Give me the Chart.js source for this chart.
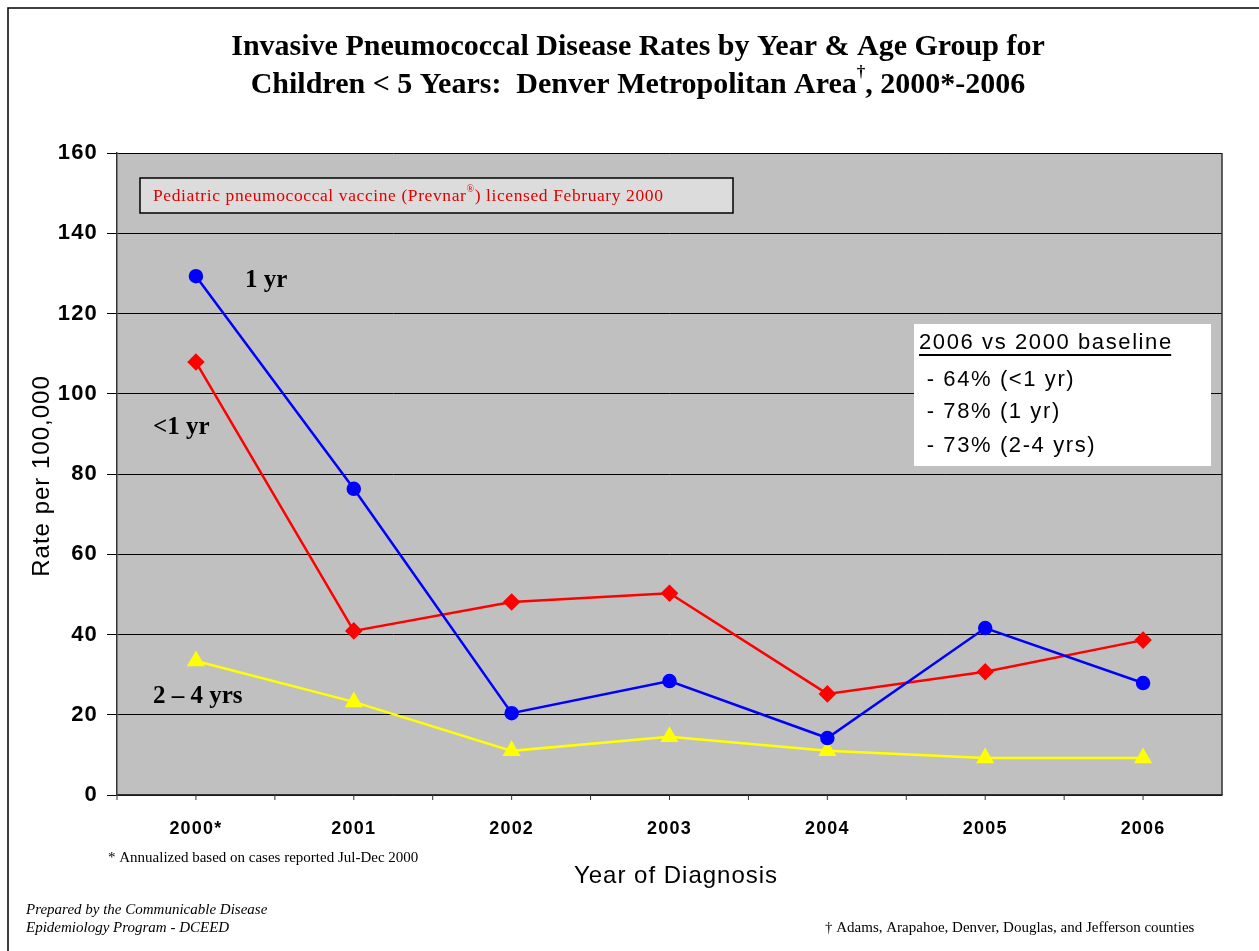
<!DOCTYPE html>
<html>
<head>
<meta charset="utf-8">
<script src="https://cdn.jsdelivr.net/npm/chart.js@4/dist/chart.umd.min.js"></script>
<style>
  html, body { margin: 0; padding: 0; background: #fff; }
  #wrap { width: 1259px; height: 951px; position: relative; }
</style>
</head>
<body>
<div id="wrap"><canvas id="ipdChart" width="1259" height="951"></canvas></div>
<script>
const years = ["2000*", "2001", "2002", "2003", "2004", "2005", "2006"];
const oneYear = [129.3, 76.3, 20.4, 28.4, 14.2, 41.6, 27.9];
const underOne = [107.9, 40.9, 48.1, 50.3, 25.2, 30.7, 38.6];
const twoToFour = [33.4, 23.2, 11.0, 14.5, 11.0, 9.2, 9.2];
const yTicks = [0, 20, 40, 60, 80, 100, 120, 140, 160];

const serif = "'Liberation Serif', 'Times New Roman', serif";
const sans = "'Liberation Sans', Arial, sans-serif";

// frame, plot background, extra tick marks and all the free text
const decor = {
    id: "decor",
    beforeDraw(chart) {
        const ctx = chart.ctx;
        const a = chart.chartArea;
        ctx.save();
        ctx.fillStyle = "#c0c0c0";
        ctx.fillRect(a.left, a.top, a.right - a.left, a.bottom - a.top);
        ctx.restore();
        // old bitmap fonts are spaced wide; the tick labels inherit this
        ctx.letterSpacing = "1.2px";
    },
    afterDraw(chart) {
        const ctx = chart.ctx;
        const a = chart.chartArea;
        const x = chart.scales.x;
        ctx.save();
        ctx.letterSpacing = "0px";

        // outer frame
        ctx.strokeStyle = "#000";
        ctx.lineWidth = 1.5;
        ctx.strokeRect(8, 8, 1262, 960);

        // plot right border
        ctx.strokeStyle = "#333";
        ctx.lineWidth = 1.5;
        ctx.beginPath();
        ctx.moveTo(a.right, a.top);
        ctx.lineTo(a.right, a.bottom);
        ctx.stroke();

        // x ticks at centres and boundaries
        ctx.lineWidth = 1;
        const step = x.getPixelForValue(1) - x.getPixelForValue(0);
        for (let i = 0; i < years.length; i++) {
            const c = x.getPixelForValue(i);
            [c - step / 2, c].forEach(px => {
                ctx.beginPath();
                ctx.moveTo(px, a.bottom);
                ctx.lineTo(px, a.bottom + 5);
                ctx.stroke();
            });
        }

        // title
        ctx.fillStyle = "#000";
        ctx.textAlign = "center";
        ctx.textBaseline = "middle";
        ctx.font = "bold 30px " + serif;
        ctx.fillText("Invasive Pneumococcal Disease Rates by Year & Age Group for", 638, 47);
        const t2a = "Children < 5 Years:  Denver Metropolitan Area";
        const t2b = ", 2000*-2006";
        const wA = ctx.measureText(t2a).width;
        const wB = ctx.measureText(t2b).width;
        ctx.font = "bold 17px " + serif;
        const wD = ctx.measureText("†").width;
        const start = 638 - (wA + wB + wD) / 2;
        ctx.textAlign = "left";
        ctx.font = "bold 30px " + serif;
        ctx.fillText(t2a, start, 85);
        ctx.fillText(t2b, start + wA + wD, 85);
        ctx.font = "bold 17px " + serif;
        ctx.fillText("†", start + wA, 73);

        // vaccine note box
        ctx.fillStyle = "#dcdcdc";
        ctx.fillRect(140, 178, 593, 35);
        ctx.strokeStyle = "#000";
        ctx.lineWidth = 1.5;
        ctx.strokeRect(140, 178, 593, 35);
        ctx.fillStyle = "#e00000";
        ctx.font = "17.5px " + serif;
        ctx.letterSpacing = "0.6px";
        const n1 = "Pediatric pneumococcal vaccine (Prevnar";
        ctx.fillText(n1, 153, 196);
        let nx = 153 + ctx.measureText(n1).width;
        ctx.font = "10px " + serif;
        ctx.fillText("®", nx, 189);
        nx += ctx.measureText("®").width;
        ctx.font = "17.5px " + serif;
        ctx.fillText(") licensed February 2000", nx, 196);
        ctx.letterSpacing = "0px";

        // series labels
        ctx.fillStyle = "#000";
        ctx.font = "bold 25px " + serif;
        ctx.fillText("1 yr", 245, 281);
        ctx.fillText("<1 yr", 153, 428);
        ctx.fillText("2 – 4 yrs", 153, 697);

        // summary box
        ctx.fillStyle = "#fff";
        ctx.fillRect(914, 324, 297, 142);
        ctx.fillStyle = "#000";
        ctx.font = "22px " + sans;
        ctx.letterSpacing = "1.6px";
        const head = "2006 vs 2000 baseline";
        ctx.fillText(head, 919, 343);
        ctx.fillRect(919, 354, ctx.measureText(head).width - 1.6, 2);
        ctx.fillText(" - 64% (<1 yr)", 919, 380);
        ctx.fillText(" - 78% (1 yr)", 919, 412);
        ctx.fillText(" - 73% (2-4 yrs)", 919, 446);

        // axis titles
        ctx.textAlign = "center";
        ctx.font = "24px " + sans;
        ctx.letterSpacing = "1px";
        ctx.fillText("Year of Diagnosis", 676, 876);
        ctx.save();
        ctx.translate(42, 476);
        ctx.rotate(-Math.PI / 2);
        ctx.fillText("Rate per 100,000", 0, 0);
        ctx.restore();
        ctx.letterSpacing = "0px";

        // footnotes
        ctx.textAlign = "left";
        ctx.font = "15px " + serif;
        ctx.fillText("* Annualized based on cases reported Jul-Dec 2000", 108, 858);
        ctx.fillText("† Adams, Arapahoe, Denver, Douglas, and Jefferson counties", 825, 928);
        ctx.font = "italic 15px " + serif;
        ctx.fillText("Prepared by the Communicable Disease", 26, 910);
        ctx.fillText("Epidemiology Program - DCEED", 26, 928);

        ctx.restore();
    }
};

new Chart(document.getElementById("ipdChart").getContext("2d"), {
    type: "line",
    data: {
        labels: years,
        datasets: [{
            label: "1 yr",
            data: oneYear,
            borderColor: "#0000ff",
            backgroundColor: "#0000ff",
            pointStyle: "circle",
            pointRadius: 6,
            borderWidth: 2.5,
            tension: 0
        }, {
            label: "<1 yr",
            data: underOne,
            borderColor: "#ff0000",
            backgroundColor: "#ff0000",
            pointStyle: "rectRot",
            pointRadius: 7,
            borderWidth: 2.5,
            tension: 0
        }, {
            label: "2-4 yrs",
            data: twoToFour,
            borderColor: "#ffff00",
            backgroundColor: "#ffff00",
            pointStyle: "triangle",
            pointRadius: 8,
            borderWidth: 2.5,
            tension: 0
        }]
    },
    options: {
        responsive: false,
        animation: false,
        layout: { padding: { top: 153, right: 37, left: 0, bottom: 0 } },
        plugins: {
            legend: { display: false },
            title: { display: false },
            tooltip: { enabled: false }
        },
        scales: {
            x: {
                offset: true,
                grid: { display: false },
                border: { display: true, color: "#333", width: 1.5 },
                ticks: {
                    padding: 15,
                    color: "#000",
                    font: { family: sans, size: 18, weight: "bold" }
                },
                afterFit(scale) { scale.height = 156; }
            },
            y: {
                min: 0,
                max: 160,
                afterBuildTicks(scale) { scale.ticks = yTicks.map(v => ({ value: v })); },
                grid: { color: "#000", lineWidth: 1, tickLength: 10 },
                border: { display: true, color: "#333", width: 1.5 },
                ticks: {
                    padding: 9,
                    color: "#000",
                    font: { family: sans, size: 22, weight: "bold" }
                },
                afterFit(scale) { scale.width = 117; }
            }
        }
    },
    plugins: [decor]
});
</script>
</body>
</html>
